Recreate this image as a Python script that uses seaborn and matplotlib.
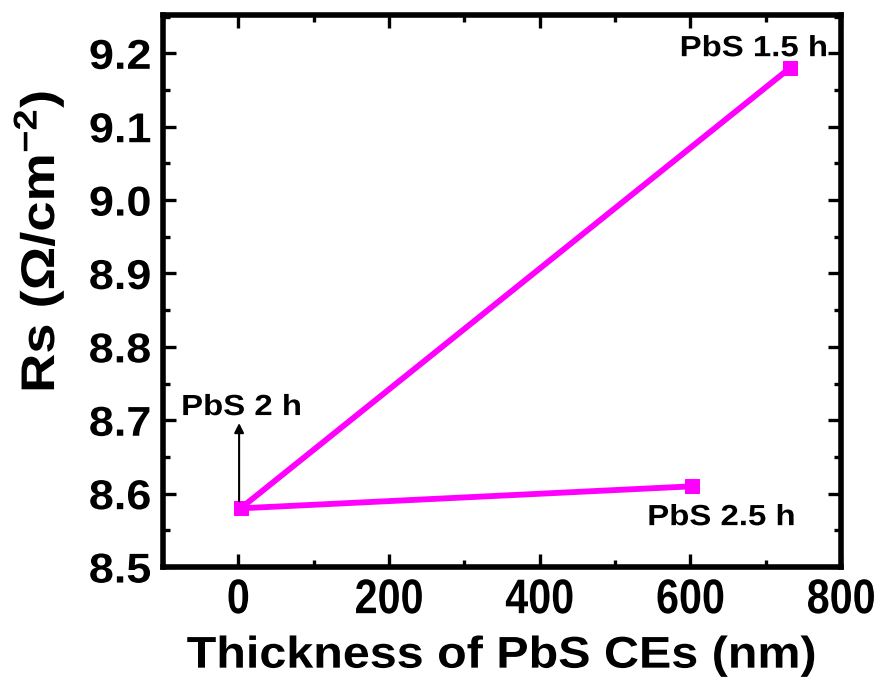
import matplotlib
matplotlib.use("Agg")
import matplotlib.pyplot as plt
import matplotlib.patheffects as pe
from matplotlib.transforms import Affine2D
from matplotlib.ticker import MultipleLocator, FormatStrFormatter
import seaborn as sns
import pandas as pd

samples = ["PbS 1.5 h", "PbS 2 h", "PbS 2.5 h"]
thickness = [732, 3, 602]
rs = [9.18, 8.58, 8.61]

df = pd.DataFrame({"sample": samples, "thickness": thickness, "rs": rs})


class Stretch(pe.AbstractPathEffect):
    """Scale text along its own direction about the text centre."""
    def __init__(self, sx):
        super().__init__()
        self.sx = sx

    def draw_path(self, renderer, gc, tpath, affine, rgbFace=None):
        ext = tpath.get_extents()
        cx = (ext.x0 + ext.x1) / 2
        t = Affine2D().translate(-cx, 0).scale(self.sx, 1).translate(cx, 0) + affine
        renderer.draw_path(gc, tpath, t, rgbFace)


sns.set_theme(style="ticks")
plt.rcParams['font.family'] = ['Liberation Sans', 'DejaVu Sans']
plt.rcParams['font.weight'] = 'bold'
plt.rcParams['text.color'] = 'black'
plt.rcParams['axes.labelcolor'] = 'black'
plt.rcParams['xtick.color'] = 'black'
plt.rcParams['ytick.color'] = 'black'
plt.rcParams['mathtext.fontset'] = 'custom'
plt.rcParams['mathtext.rm'] = 'Liberation Sans:bold'
plt.rcParams['mathtext.bf'] = 'Liberation Sans:bold'
plt.rcParams['mathtext.default'] = 'bf'

fig = plt.figure(figsize=(8.83, 6.89), dpi=100)
ax = fig.add_axes([0.1846, 0.177, 0.768, 0.801])

sns.lineplot(data=df, x="thickness", y="rs", sort=False, ax=ax,
             color="#FF00FF", linewidth=4.2, marker="s", markersize=9.5,
             markeredgecolor="#FF00FF", markerfacecolor="#FF00FF")

ax.set_xlim(-100, 800)
ax.set_ylim(8.5, 9.252)
ax.xaxis.set_major_locator(MultipleLocator(200))
ax.xaxis.set_minor_locator(MultipleLocator(100))
ax.yaxis.set_major_locator(MultipleLocator(0.1))
ax.yaxis.set_minor_locator(MultipleLocator(0.05))
ax.yaxis.set_major_formatter(FormatStrFormatter('%.1f'))

for s in ax.spines.values():
    s.set_linewidth(4)
    s.set_color('black')

ax.tick_params(which='both', direction='in', top=True, right=True,
               width=2.4, color='black')
ax.tick_params(which='major', length=9.5)
ax.tick_params(which='minor', length=5)
ax.tick_params(axis='y', which='major', labelsize=30, pad=10)
ax.tick_params(axis='x', which='major', labelsize=35, pad=8)
fig.canvas.draw()
for lab in ax.get_xticklabels():
    lab.set_fontweight('bold')
    lab.set_path_effects([Stretch(0.85)])
for lab in ax.get_yticklabels():
    lab.set_fontweight('bold')
    lab.set_path_effects([Stretch(1.08)])

xl = ax.set_xlabel("Thickness of PbS CEs (nm)", fontsize=32, fontweight='bold', labelpad=9)
xl.set_path_effects([Stretch(1.09)])
yl = ax.set_ylabel(r"Rs ($\Omega$/cm$^{-2}$)", fontsize=34, fontweight='bold')
yl.set_path_effects([Stretch(1.15)])
ax.yaxis.set_label_coords(-0.142, 0.59)

for xv, yv, txt in [(684, 9.207, samples[0]), (4, 8.718, samples[1]), (641, 8.568, samples[2])]:
    t = ax.text(xv, yv, txt, fontsize=21, fontweight='bold', ha='center', va='center')
    t.set_path_effects([Stretch(1.13)])

ax.annotate("", xy=(1, 8.70), xytext=(1, 8.586),
            arrowprops=dict(arrowstyle="-|>", color='black', lw=1.5, mutation_scale=14))

fig.savefig("out.png", dpi=100)
